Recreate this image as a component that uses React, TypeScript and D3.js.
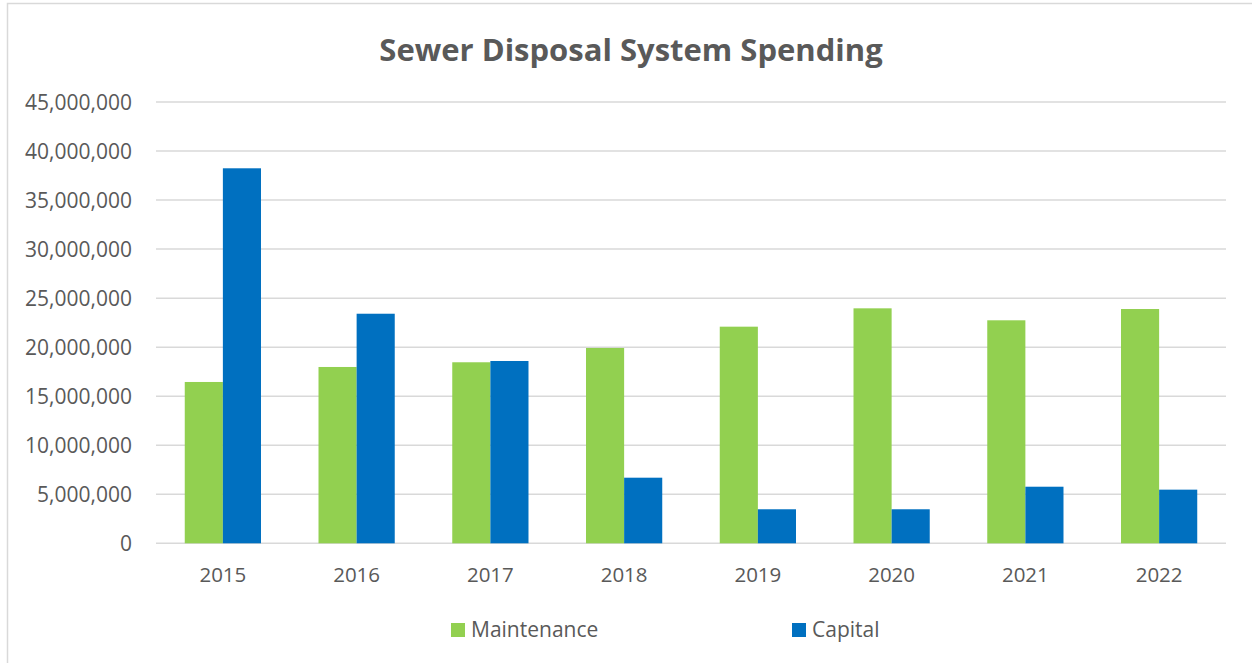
import React from "react";
import * as d3 from "d3";

const years = ["2015", "2016", "2017", "2018", "2019", "2020", "2021", "2022"];
const maintenance = [16450000, 17980000, 18460000, 19920000, 22090000, 23960000, 22740000, 23890000];
const capital = [38240000, 23410000, 18590000, 6690000, 3470000, 3470000, 5770000, 5470000];
const seriesNames = ["Maintenance", "Capital"];
const seriesColors = ["#92D050", "#0070C0"];
const yTicks = [0, 5000000, 10000000, 15000000, 20000000, 25000000, 30000000, 35000000, 40000000, 45000000];
const title = "Sewer Disposal System Spending";

const W = 1252;
const H = 663;
const FONT = "'Open Sans', 'Segoe UI', sans-serif";
const TEXT = "#595959";
const GRID = "#D9D9D9";

export default function App() {
  const plotL = 156;
  const plotR = 1226;
  const plotT = 102;
  const plotB = 543.3;

  const x = d3.scaleBand<string>().domain(years).range([plotL, plotR]).paddingInner(0.43).paddingOuter(0.215);
  const xs = d3.scaleBand<string>().domain(seriesNames).range([0, x.bandwidth()]);
  const y = d3.scaleLinear().domain([0, 45000000]).range([plotB, plotT]);
  const fmt = d3.format(",");
  const data = [maintenance, capital];

  return (
    <svg width={W} height={H} style={{ position: "absolute", left: 0, top: 0, background: "#fff" }} fontFamily={FONT}>
      <rect x={7.5} y={3.5} width={W + 20} height={H + 20} fill="#fff" stroke={GRID} strokeWidth={1.5} />
      <text x={631} y={61} textAnchor="middle" fontSize={31} fontWeight="bold" fill={TEXT}>{title}</text>
      {yTicks.map((t) => (
        <g key={t}>
          <line x1={plotL} x2={plotR} y1={y(t)} y2={y(t)} stroke={GRID} strokeWidth={1.5} />
          <text x={132} y={y(t)} dy="0.36em" textAnchor="end" fontSize={21} fill={TEXT}>{fmt(t)}</text>
        </g>
      ))}
      {years.map((yr, i) => (
        <g key={yr}>
          {data.map((s, j) => (
            <rect
              key={j}
              x={(x(yr) as number) + (xs(seriesNames[j]) as number)}
              y={y(s[i])}
              width={xs.bandwidth()}
              height={plotB - y(s[i])}
              fill={seriesColors[j]}
            />
          ))}
          <text x={(x(yr) as number) + x.bandwidth() / 2} y={582} textAnchor="middle" fontSize={20.5} fill={TEXT}>{yr}</text>
        </g>
      ))}
      {seriesNames.map((n, j) => {
        const lx = j === 0 ? 451 : 792;
        return (
          <g key={n}>
            <rect x={lx} y={623} width={14} height={14} fill={seriesColors[j]} />
            <text x={lx + 20} y={637} fontSize={21} fill={TEXT}>{n}</text>
          </g>
        );
      })}
    </svg>
  );
}
